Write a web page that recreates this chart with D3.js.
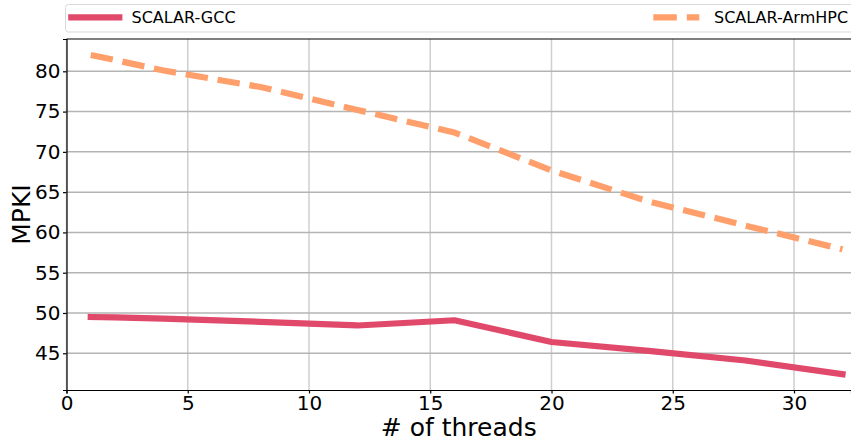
<!DOCTYPE html>
<html>
<head>
<meta charset="utf-8">
<script src="https://cdn.jsdelivr.net/npm/d3@7"></script>
<style>
  html, body { margin: 0; padding: 0; background: #fff; }
  svg { display: block; font-family: "DejaVu Sans", sans-serif; }
</style>
</head>
<body>
<svg id="chart" width="851" height="441"></svg>
<script>
// Thread counts and measured MPKI per compiler build
const threads = [1, 2, 4, 8, 12, 16, 20, 24, 28, 32];
const gccMPKI = [49.5, 49.45, 49.3, 48.9, 48.45, 49.1, 46.4, 45.3, 44.1, 42.4];
const armhpcMPKI = [82.03, 81.4, 80.1, 78.05, 75.2, 72.4, 67.7, 63.85, 60.85, 57.9];
const seriesNames = ["SCALAR-GCC", "SCALAR-ArmHPC"];
const xTicks = [0, 5, 10, 15, 20, 25, 30];
const yTicks = [45, 50, 55, 60, 65, 70, 75, 80];

const svg = d3.select("#chart");
const plotL = 66.5, plotR = 851, plotT = 39, plotB = 390;

const x = d3.scaleLinear().domain([0, 32.35]).range([plotL, plotR]);
const y = d3.scaleLinear().domain([40.44, 84.01]).range([plotB, plotT]);

const colors = { gcc: "#E0496A", arm: "#FFA06C" };

// grid
const grid = svg.append("g");
grid.selectAll("line.vx").data(xTicks).join("line")
  .attr("x1", d => x(d)).attr("x2", d => x(d))
  .attr("y1", plotT).attr("y2", plotB)
  .attr("stroke", "#cfcfcf").attr("stroke-width", 1.5);
grid.selectAll("line.hy").data(yTicks).join("line")
  .attr("x1", plotL).attr("x2", plotR)
  .attr("y1", d => y(d)).attr("y2", d => y(d))
  .attr("stroke", "#b4b4b4").attr("stroke-width", 1.5);

// series
const line = d3.line().x((d, i) => x(threads[i])).y(d => y(d));
svg.append("path").datum(gccMPKI)
  .attr("d", line).attr("fill", "none")
  .attr("stroke", colors.gcc).attr("stroke-width", 6.2)
  .attr("stroke-linejoin", "round").attr("stroke-linecap", "square");
svg.append("path").datum(armhpcMPKI)
  .attr("d", line).attr("fill", "none")
  .attr("stroke", colors.arm).attr("stroke-width", 6.2)
  .attr("stroke-linejoin", "round").attr("stroke-linecap", "butt")
  .attr("stroke-dasharray", "22.5,9.8");

// axes
const xAxis = svg.append("g").attr("transform", `translate(0,${plotB})`)
  .call(d3.axisBottom(x).tickValues(xTicks).tickFormat(d3.format("d")).tickSizeOuter(0).tickSize(3.5).tickPadding(2));
const yAxis = svg.append("g").attr("transform", `translate(${plotL},0)`)
  .call(d3.axisLeft(y).tickValues(yTicks).tickFormat(d3.format("d")).tickSizeOuter(0).tickSize(3.5).tickPadding(2.5));
[xAxis, yAxis].forEach(a => {
  a.select(".domain").attr("stroke", "#000").attr("stroke-width", 1.2);
  a.selectAll(".tick line").attr("stroke", "#000").attr("stroke-width", 1.2);
  a.selectAll(".tick text").attr("fill", "#000")
    .style("font-family", "DejaVu Sans").style("font-size", "20px");
});
// top spine
svg.append("line").attr("x1", plotL).attr("x2", plotR).attr("y1", plotT).attr("y2", plotT)
  .attr("stroke", "#000").attr("stroke-width", 1.2);

// axis titles
svg.append("text").attr("x", (plotL + plotR) / 2).attr("y", 436)
  .attr("text-anchor", "middle").style("font-size", "25px").text("# of threads");
svg.append("text").attr("transform", `translate(30,${(plotT + plotB) / 2}) rotate(-90)`)
  .attr("text-anchor", "middle").style("font-size", "25px").text("MPKI");

// legend
const lg = svg.append("g");
lg.append("rect").attr("x", 65.5).attr("y", 4.5).attr("width", 790).attr("height", 27.5)
  .attr("rx", 3).attr("fill", "#fff").attr("stroke", "#d9d9d9").attr("stroke-width", 1);
lg.append("line").attr("x1", 71.3).attr("x2", 119.3).attr("y1", 17.3).attr("y2", 17.3)
  .attr("stroke", colors.gcc).attr("stroke-width", 6.2).attr("stroke-linecap", "square");
lg.append("text").attr("x", 131.5).attr("y", 23).style("font-size", "16px").text(seriesNames[0]);
lg.append("line").attr("x1", 653.3).attr("x2", 699.3).attr("y1", 17.3).attr("y2", 17.3)
  .attr("stroke", colors.arm).attr("stroke-width", 6.2).attr("stroke-dasharray", "23.5,10");
lg.append("text").attr("x", 714).attr("y", 23).style("font-size", "16px").text(seriesNames[1]);
</script>
</body>
</html>
